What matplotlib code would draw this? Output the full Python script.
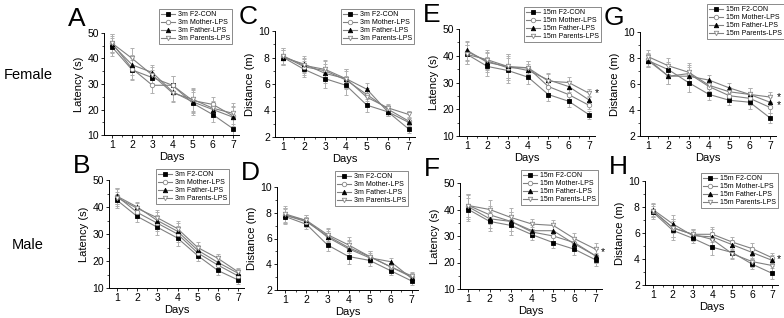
import matplotlib
matplotlib.use("Agg")
import matplotlib.pyplot as plt
from matplotlib.ticker import MultipleLocator
import numpy as np

plt.rcParams['font.family'] = ['Liberation Sans', 'DejaVu Sans']

days = [1, 2, 3, 4, 5, 6, 7]
series_names = ["F2-CON", "Mother-LPS", "Father-LPS", "Parents-LPS"]

# Panel A: 3m female latency
A_con = [44.5, 35.5, 32.5, 29.5, 22.5, 18.0, 12.5]
A_mot = [46.0, 36.0, 29.5, 29.5, 23.5, 22.0, 17.5]
A_fat = [45.5, 37.5, 34.5, 27.0, 23.0, 20.0, 17.0]
A_par = [46.0, 40.0, 33.5, 26.5, 24.0, 20.5, 18.5]
A_err = [3.5, 4.0, 3.0, 3.5, 4.5, 3.0, 4.0]

# Panel C: 3m female distance
C_con = [8.0, 7.1, 6.4, 5.9, 4.4, 3.9, 2.6]
C_mot = [8.1, 7.3, 7.0, 6.3, 5.2, 4.1, 3.2]
C_fat = [8.0, 7.5, 6.8, 6.4, 5.6, 3.9, 3.1]
C_par = [8.1, 7.4, 7.1, 6.4, 5.0, 4.2, 3.7]
C_err = [0.6, 0.6, 0.7, 0.7, 0.5, 0.3, 0.3]

# Panel E: 15m female latency
E_con = [40.5, 36.0, 34.5, 32.0, 25.5, 23.0, 18.0]
E_mot = [41.5, 38.0, 35.5, 35.5, 28.5, 25.5, 21.5]
E_fat = [42.0, 37.5, 36.0, 34.5, 31.0, 28.5, 23.5]
E_par = [40.5, 38.5, 36.0, 35.5, 30.5, 30.0, 26.0]
E_err = [3.5, 3.5, 4.5, 2.5, 2.5, 2.0, 1.5]
E_star = [(7.4, 26.0, "*")]

# Panel G: 15m female distance
G_con = [7.8, 7.1, 6.1, 5.2, 4.75, 4.6, 3.4]
G_mot = [7.9, 6.6, 6.8, 5.8, 5.1, 4.9, 4.2]
G_fat = [7.8, 6.6, 6.6, 6.3, 5.7, 5.2, 4.6]
G_par = [8.1, 7.4, 6.9, 5.9, 5.4, 5.2, 5.0]
G_err = [0.5, 0.6, 0.7, 0.4, 0.4, 0.5, 0.4]
G_star = [(7.45, 4.72, "*\n*")]

# Panel B: 3m male latency
B_con = [42.5, 36.5, 32.5, 28.5, 22.0, 16.5, 13.0]
B_mot = [44.0, 38.0, 34.0, 30.0, 23.0, 18.5, 14.5]
B_fat = [44.0, 40.0, 35.0, 31.0, 24.0, 19.5, 15.5]
B_par = [43.5, 39.5, 36.0, 32.0, 25.0, 21.0, 16.0]
B_err = [3.0, 2.0, 3.0, 3.0, 2.0, 1.5, 1.5]

# Panel D: 3m male distance
D_con = [7.7, 7.1, 5.5, 4.6, 4.3, 3.5, 2.7]
D_mot = [7.8, 7.3, 6.2, 5.3, 4.6, 3.8, 3.0]
D_fat = [7.8, 7.4, 6.1, 5.2, 4.5, 4.2, 2.9]
D_par = [7.9, 7.4, 6.3, 5.5, 4.6, 3.8, 3.1]
D_err = [0.6, 0.4, 0.5, 0.6, 0.4, 0.3, 0.3]

# Panel F: 15m male latency
F_con = [40.0, 35.5, 34.0, 30.5, 27.5, 25.0, 21.0]
F_mot = [41.5, 38.0, 35.5, 31.5, 30.0, 27.5, 22.5]
F_fat = [41.0, 36.5, 35.5, 32.0, 32.0, 27.0, 22.5]
F_par = [41.5, 40.0, 37.0, 34.5, 34.0, 29.0, 25.0]
F_err = [4.5, 3.5, 3.5, 2.0, 2.0, 2.0, 2.5]
F_star = [(7.35, 24.0, "*")]

# Panel H: 15m male distance
H_con = [7.6, 6.2, 5.6, 4.9, 4.5, 3.6, 2.9]
H_mot = [7.7, 6.4, 5.9, 5.9, 5.3, 4.8, 4.1]
H_fat = [7.8, 6.7, 5.8, 5.7, 5.1, 4.5, 3.9]
H_par = [7.7, 6.4, 5.9, 5.5, 4.4, 3.8, 3.5]
H_err = [0.5, 0.7, 0.4, 0.6, 0.4, 0.4, 0.4]
H_star = [(7.35, 4.0, "*")]

W, H = 784, 318
fig = plt.figure(figsize=(W / 100, H / 100), dpi=100)

styles = [
    dict(marker='s', mfc='black', mec='black'),
    dict(marker='o', mfc='white', mec='#888888'),
    dict(marker='^', mfc='black', mec='black'),
    dict(marker='v', mfc='white', mec='#888888'),
]

panels = [
    ("A", (104, 33, 239, 135), "3m", [A_con, A_mot, A_fat, A_par], A_err, (10, 50), 10, "Latency (s)", [], (232, 9)),
    ("C", (275, 31, 415, 137), "3m", [C_con, C_mot, C_fat, C_par], C_err, (2, 10), 2, "Distance (m)", [], (414, 9)),
    ("E", (459, 29, 595, 136), "15m", [E_con, E_mot, E_fat, E_par], E_err, (10, 50), 10, "Latency (s)", E_star, (601, 7)),
    ("G", (640, 32, 776, 136), "15m", [G_con, G_mot, G_fat, G_par], G_err, (2, 10), 2, "Distance (m)", G_star, (784, 4)),
    ("B", (109, 180, 244, 288), "3m", [B_con, B_mot, B_fat, B_par], B_err, (10, 50), 10, "Latency (s)", [], (229, 169)),
    ("D", (277, 187, 418, 290), "3m", [D_con, D_mot, D_fat, D_par], D_err, (2, 10), 2, "Distance (m)", [], (408, 171)),
    ("F", (460, 183, 602, 289), "15m", [F_con, F_mot, F_fat, F_par], F_err, (10, 50), 10, "Latency (s)", F_star, (598, 170)),
    ("H", (645, 181, 778, 285), "15m", [H_con, H_mot, H_fat, H_par], H_err, (2, 10), 2, "Distance (m)", H_star, (778, 173)),
]

for letter, (l, t, r, b), prefix, data, err, ylim, ystep, ylabel, stars, (lr, lt) in panels:
    ax = fig.add_axes([l / W, 1 - b / H, (r - l) / W, (b - t) / H])
    handles = []
    for vals, st, name in zip(data, styles, series_names):
        ax.errorbar(days, vals, yerr=err, fmt='none', ecolor='#b0b0b0', elinewidth=0.7,
                    capsize=1.5, capthick=0.7, zorder=1)
        h, = ax.plot(days, vals, color='#808080', lw=0.8, marker=st['marker'], ms=3.2,
                     mfc=st['mfc'], mec=st['mec'], mew=0.6, zorder=3,
                     label=f"{prefix} {name}")
        handles.append(h)
    ax.set_xlim(0.6, 7.3)
    ax.set_ylim(*ylim)
    ax.set_xticks(days)
    ax.xaxis.set_minor_locator(MultipleLocator(0.5))
    ax.yaxis.set_major_locator(MultipleLocator(ystep))
    ax.yaxis.set_minor_locator(MultipleLocator(ystep / 2))
    for side in ('top', 'right'):
        ax.spines[side].set_visible(False)
    for side in ('left', 'bottom'):
        ax.spines[side].set_linewidth(0.7)
    ax.tick_params(which='major', direction='out', length=2.5, width=0.6, labelsize=7.5, pad=1.2)
    ax.tick_params(which='minor', direction='out', length=1.5, width=0.5)
    ax.set_ylabel(ylabel, fontsize=8, labelpad=2)
    ax.set_xlabel("Days", fontsize=8, labelpad=1.2)
    ax.patch.set_alpha(0)
    for sx, sy, s in stars:
        ax.text(sx, sy, s, fontsize=7.5, ha='center', va='center', linespacing=0.75,
                clip_on=False)
    leg = ax.legend(handles=handles, loc='upper right',
                    bbox_to_anchor=(lr / W, 1 - lt / H), bbox_transform=fig.transFigure,
                    fontsize=5, frameon=True, fancybox=False, handlelength=2.0,
                    handletextpad=0.4, borderpad=0.3, labelspacing=0.15, borderaxespad=0)
    leg.get_frame().set_edgecolor('#555555')
    leg.get_frame().set_linewidth(0.6)
    fig.text((l - 36) / W, 1 - (t - 14) / H, letter, fontsize=19, ha='left', va='center')

fig.text(28 / W, 1 - 75 / H, "Female", fontsize=10.5, ha='center', va='center')
fig.text(28 / W, 1 - 245 / H, "Male", fontsize=10.5, ha='center', va='center')

fig.savefig("out.png", dpi=100)
